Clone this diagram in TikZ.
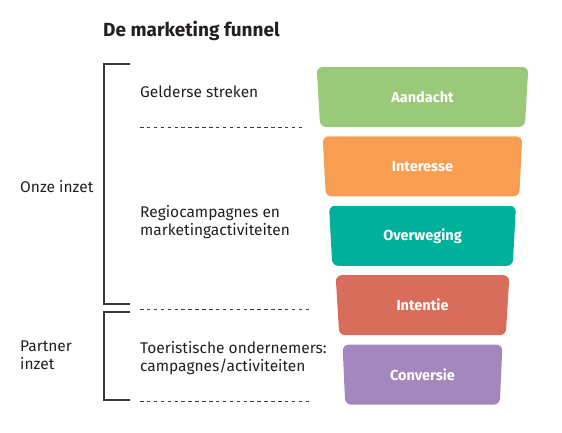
\documentclass[tikz,border=0pt]{standalone}
\usepackage{fontspec}
\setmainfont{Fira Sans}
\usepackage{xcolor}
\usepackage{tikz}
\usetikzlibrary{positioning,shapes.geometric}
\definecolor{Ink}{HTML}{231F20}
\definecolor{Rule}{HTML}{3A3A3A}
\definecolor{Leaf}{HTML}{9BC97A}
\definecolor{Peach}{HTML}{F79E52}
\definecolor{Teal}{HTML}{00B09B}
\definecolor{Brick}{HTML}{D86D5B}
\definecolor{Lilac}{HTML}{A387BD}
\tikzset{
  stage/.style={
    trapezium, shape border rotate=180, trapezium angle=84.6,
    trapezium stretches=true, rounded corners=6pt,
    minimum height=60pt, inner sep=0pt, text=white,
    font=\bfseries\fontsize{14.5}{17}\selectfont
  },
  txt/.style={font=\fontsize{15.5}{18}\selectfont,color=Ink,align=left,anchor=west,inner sep=0pt},
  bracket/.style={draw=Rule,line width=1.1pt},
  sep/.style={draw=Rule,line width=0.9pt,dash pattern=on 3.5pt off 3.4pt}
}

\begin{document}
\begin{tikzpicture}[x=1pt,y=-1pt,node distance=9pt]
  \useasboundingbox (0,0) rectangle (562,432);
  \node[txt,font=\bfseries\fontsize{19}{22}\selectfont] (title) at (103,31) {De marketing funnel};
  % funnel
  \node[stage,fill=Leaf,minimum width=213pt] (aandacht) at (422.5,97) {Aandacht};
  \node[stage,fill=Peach,minimum width=200pt,below=of aandacht] (interesse) {Interesse};
  \node[stage,fill=Teal,minimum width=187pt,below=of interesse] (overweging) {Overweging};
  \node[stage,fill=Brick,minimum width=174pt,below=of overweging] (intentie) {Intentie};
  \node[stage,fill=Lilac,minimum width=161pt,below=of intentie] (conversie) {Conversie};
  % labels
  \node[txt] (gelders) at (140,92) {Gelderse streken};
  \node[txt] (regio) at (140,222) {Regiocampagnes en\\marketingactiviteiten};
  \node[txt] (toer) at (140,358) {Toeristische ondernemers:\\campagnes/activiteiten};
  \node[txt] (onze) at (20,187) {Onze inzet};
  \node[txt] (partner) at (20,355) {Partner\\inzet};
  % brackets and separators
  \draw[bracket] (130,64) -- (104,64) -- (104,304) -- (130,304);
  \draw[bracket] (130,312) -- (104,312) -- (104,400) -- (130,400);
  \draw[sep] (140,127) -- (305,127);
  \draw[sep] (140,309) -- (312,309);
  \draw[sep] (140,401) -- (312,401);
\end{tikzpicture}
\end{document}
